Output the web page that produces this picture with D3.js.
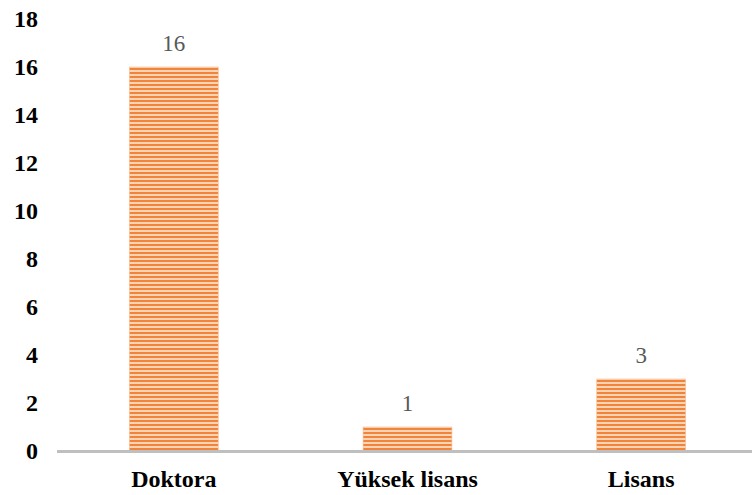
<!DOCTYPE html>
<html>
<head>
<meta charset="utf-8">
<script src="https://cdn.jsdelivr.net/npm/d3@7"></script>
<style>
  body { margin: 0; background: #fff; }
</style>
</head>
<body>
<svg width="752" height="495"></svg>
<script>
var categories = ["Doktora", "Yüksek lisans", "Lisans"];
var values = [16, 1, 3];
var yTicks = [0, 2, 4, 6, 8, 10, 12, 14, 16, 18];

var svg = d3.select("svg")
  .attr("font-family", "'Liberation Serif', 'Times New Roman', serif");

// stripe fill for bars
var pat = svg.append("defs").append("pattern")
  .attr("id", "stripes")
  .attr("patternUnits", "userSpaceOnUse")
  .attr("width", 8).attr("height", 4);
pat.append("rect").attr("width", 8).attr("height", 4).attr("fill", "#fbd3b5");
pat.append("rect").attr("y", 0).attr("width", 8).attr("height", 2).attr("fill", "#f0843a");

var x = d3.scaleBand()
  .domain(categories)
  .range([57, 758])
  .paddingInner(0.62)
  .paddingOuter(0.31);

var y = d3.scaleLinear()
  .domain([0, 18])
  .range([451, 19]);

// y tick labels
svg.selectAll(".ytick")
  .data(yTicks)
  .enter().append("text")
    .attr("class", "ytick")
    .attr("x", 38)
    .attr("y", d => y(d))
    .attr("dy", "0.35em")
    .attr("text-anchor", "end")
    .attr("font-size", 24)
    .attr("font-weight", "bold")
    .attr("fill", "#000")
    .text(d => d);

// bars
svg.selectAll(".bar")
  .data(values)
  .enter().append("rect")
    .attr("class", "bar")
    .attr("x", (d, i) => x(categories[i]))
    .attr("width", x.bandwidth())
    .attr("y", d => y(d))
    .attr("height", d => y(0) - y(d))
    .attr("fill", "url(#stripes)")
    .attr("stroke", "#f6b98a")
    .attr("stroke-width", 0.6);

// baseline
svg.append("line")
  .attr("x1", 57).attr("x2", 752)
  .attr("y1", y(0) + 0.5).attr("y2", y(0) + 0.5)
  .attr("stroke", "#bfbfbf")
  .attr("stroke-width", 3);

// value labels
svg.selectAll(".val")
  .data(values)
  .enter().append("text")
    .attr("class", "val")
    .attr("x", (d, i) => x(categories[i]) + x.bandwidth() / 2)
    .attr("y", d => y(d) - 16)
    .attr("text-anchor", "middle")
    .attr("font-size", 23)
    .attr("fill", "#595959")
    .text(d => d);

// category labels
svg.selectAll(".cat")
  .data(categories)
  .enter().append("text")
    .attr("class", "cat")
    .attr("x", d => x(d) + x.bandwidth() / 2)
    .attr("y", 487)
    .attr("text-anchor", "middle")
    .attr("font-size", 24)
    .attr("font-weight", "bold")
    .attr("fill", "#000")
    .text(d => d);
</script>
</body>
</html>
